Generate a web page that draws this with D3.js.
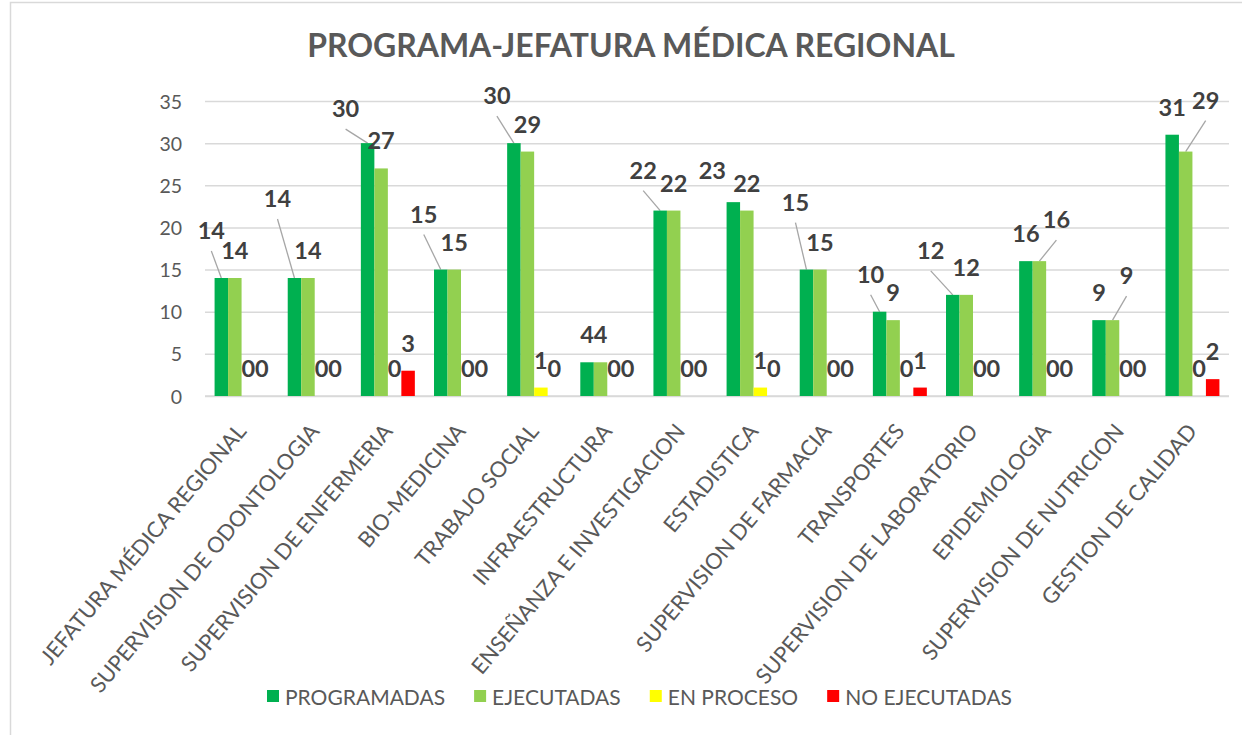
<!DOCTYPE html>
<html>
<head>
<meta charset="utf-8">
<script src="https://cdn.jsdelivr.net/npm/d3@7"></script>
<style>
  html, body { margin: 0; padding: 0; background: #ffffff; }
  svg { display: block; }
  text { font-family: Lato, "Open Sans", sans-serif; }
</style>
</head>
<body>
<svg id="chart" width="1242" height="735"></svg>
<script>
// ---------- DATA ----------
const categories = [
  "JEFATURA MÉDICA REGIONAL",
  "SUPERVISION DE ODONTOLOGIA",
  "SUPERVISION DE ENFERMERIA",
  "BIO-MEDICINA",
  "TRABAJO SOCIAL",
  "INFRAESTRUCTURA",
  "ENSEÑANZA E INVESTIGACION",
  "ESTADISTICA",
  "SUPERVISION DE FARMACIA",
  "TRANSPORTES",
  "SUPERVISION DE LABORATORIO",
  "EPIDEMIOLOGIA",
  "SUPERVISION DE NUTRICION",
  "GESTION DE CALIDAD"
];
const seriesNames = ["PROGRAMADAS", "EJECUTADAS", "EN PROCESO", "NO EJECUTADAS"];
const programadas  = [14, 14, 30, 15, 30, 4, 22, 23, 15, 10, 12, 16, 9, 31];
const ejecutadas   = [14, 14, 27, 15, 29, 4, 22, 22, 15,  9, 12, 16, 9, 29];
const enProceso    = [ 0,  0,  0,  0,  1, 0,  0,  1,  0,  0,  0,  0, 0,  0];
const noEjecutadas = [ 0,  0,  3,  0,  0, 0,  0,  0,  0,  1,  0,  0, 0,  2];
const yTicks = [0, 5, 10, 15, 20, 25, 30, 35];
const titleText = "PROGRAMA-JEFATURA MÉDICA REGIONAL";

// ---------- STYLE / LAYOUT ----------
const colors = ["#00B050", "#92D050", "#FFFF00", "#FF0000"];
const seriesValues = [programadas, ejecutadas, enProceso, noEjecutadas];
// manually moved data labels (offset from default position), with leader lines
const labelMoves = [
  {s: 0, i: 0,  dx: -10, dy: -20, leader: true},
  {s: 0, i: 1,  dx: -17, dy: -52, leader: true},
  {s: 0, i: 2,  dx: -22, dy: -7,  leader: true},
  {s: 0, i: 3,  dx: -17, dy: -28, leader: true},
  {s: 0, i: 4,  dx: -17, dy: -20, leader: true},
  {s: 0, i: 6,  dx: -17, dy: -13, leader: true},
  {s: 0, i: 7,  dx: -21, dy: -4,  leader: false},
  {s: 0, i: 8,  dx: -11, dy: -40, leader: true},
  {s: 0, i: 9,  dx: -9,  dy: -10, leader: true},
  {s: 0, i: 10, dx: -22, dy: -17, leader: true},
  {s: 1, i: 11, dx: 17,  dy: -14, leader: true},
  {s: 1, i: 12, dx: 14,  dy: -17, leader: true},
  {s: 1, i: 13, dx: 20,  dy: -24, leader: true}
];

const svg = d3.select("#chart");
const plot = {left: 205, right: 1229, top: 101, bottom: 396};

// chart frame border (only left/top visible in the picture)
svg.append("rect")
  .attr("x", 10.5).attr("y", 2.5)
  .attr("width", 1300).attr("height", 800)
  .attr("fill", "none").attr("stroke", "#d9d9d9").attr("stroke-width", 1.5);

// title (font size fitted to the reference width)
const title = svg.append("text")
  .attr("x", 631).attr("y", 57)
  .attr("text-anchor", "middle")
  .attr("font-size", 31).attr("font-weight", 700)
  .attr("fill", "#595959")
  .text(titleText);
const tw = title.node().getComputedTextLength();
title.attr("font-size", 31 * 648 / tw);

// scales
const y = d3.scaleLinear().domain([0, 35]).range([plot.bottom, plot.top]);
const x0 = d3.scaleBand().domain(categories).range([plot.left, plot.right]).paddingInner(0).paddingOuter(0);
const bw = x0.bandwidth();
const off = bw * 0.131;
const x1 = d3.scaleBand().domain(seriesNames).range([off, bw - off]).padding(0);

// gridlines + y tick labels
const yAxis = d3.axisLeft(y).tickValues(yTicks).tickSize(-(plot.right - plot.left)).tickFormat(d3.format("d")).tickPadding(23);
const gy = svg.append("g").attr("transform", `translate(${plot.left},0)`).call(yAxis);
gy.select(".domain").remove();
gy.selectAll(".tick line").attr("stroke", "#d9d9d9").attr("stroke-width", 1.5);
gy.selectAll(".tick text")
  .attr("font-family", "Lato, sans-serif")
  .attr("font-size", 19.5).attr("fill", "#595959")
  .attr("dy", "0.36em");

// x axis baseline
svg.append("line")
  .attr("x1", plot.left).attr("x2", plot.right)
  .attr("y1", y(0)).attr("y2", y(0))
  .attr("stroke", "#d9d9d9").attr("stroke-width", 1.5);

// leader lines layer
const leaderLayer = svg.append("g");

// bars
const groups = svg.append("g").selectAll("g.cat")
  .data(categories).join("g")
  .attr("class", "cat")
  .attr("transform", d => `translate(${x0(d)},0)`);

seriesNames.forEach((sName, s) => {
  groups.append("rect")
    .attr("x", x1(sName))
    .attr("width", x1.bandwidth())
    .attr("y", (d, i) => y(seriesValues[s][i]))
    .attr("height", (d, i) => y(0) - y(seriesValues[s][i]))
    .attr("fill", colors[s]);
});

// x axis labels (rotated)
svg.append("g").selectAll("text")
  .data(categories).join("text")
  .attr("transform", d => `translate(${x0(d) + bw / 2},427) rotate(-50)`)
  .attr("text-anchor", "end")
  .attr("dy", "0.35em")
  .attr("font-size", 21.8)
  .attr("fill", "#595959")
  .text(d => d);

// data labels + leader lines
const labelLayer = svg.append("g");
seriesNames.forEach((sName, s) => {
  categories.forEach((c, i) => {
    const v = seriesValues[s][i];
    const cx = x0(c) + x1(sName) + x1.bandwidth() / 2;
    const top = y(v);
    let lx = cx, ly = top - 19;
    const mv = labelMoves.find(m => m.s === s && m.i === i);
    if (mv) {
      lx += mv.dx; ly += mv.dy;
      if (mv.leader) {
        leaderLayer.append("line")
          .attr("x1", lx).attr("y1", ly + 12)
          .attr("x2", cx).attr("y2", top)
          .attr("stroke", "#a6a6a6").attr("stroke-width", 1.3);
      }
    }
    labelLayer.append("text")
      .attr("x", lx).attr("y", ly)
      .attr("text-anchor", "middle")
      .attr("font-size", 23.5).attr("font-weight", 700)
      .attr("fill", "#404040")
      .text(d3.format("d")(v));
  });
});

// legend
const legend = svg.append("g");
const items = legend.selectAll("g").data(seriesNames).join("g");
items.append("rect").attr("width", 12).attr("height", 12).attr("y", 690)
  .attr("fill", (d, i) => colors[i]);
items.append("text").attr("x", 18).attr("y", 705)
  .attr("font-size", 21).attr("fill", "#595959")
  .text(d => d);
const widths = [];
items.each(function() { widths.push(d3.select(this).select("text").node().getComputedTextLength() + 18); });
const legendLeft = 267, legendRight = 1012;
const gap = Math.max(12, (legendRight - legendLeft - d3.sum(widths)) / (widths.length - 1));
let cur = legendLeft;
items.attr("transform", (d, i) => { const t = `translate(${cur},0)`; cur += widths[i] + gap; return t; });
</script>
</body>
</html>
